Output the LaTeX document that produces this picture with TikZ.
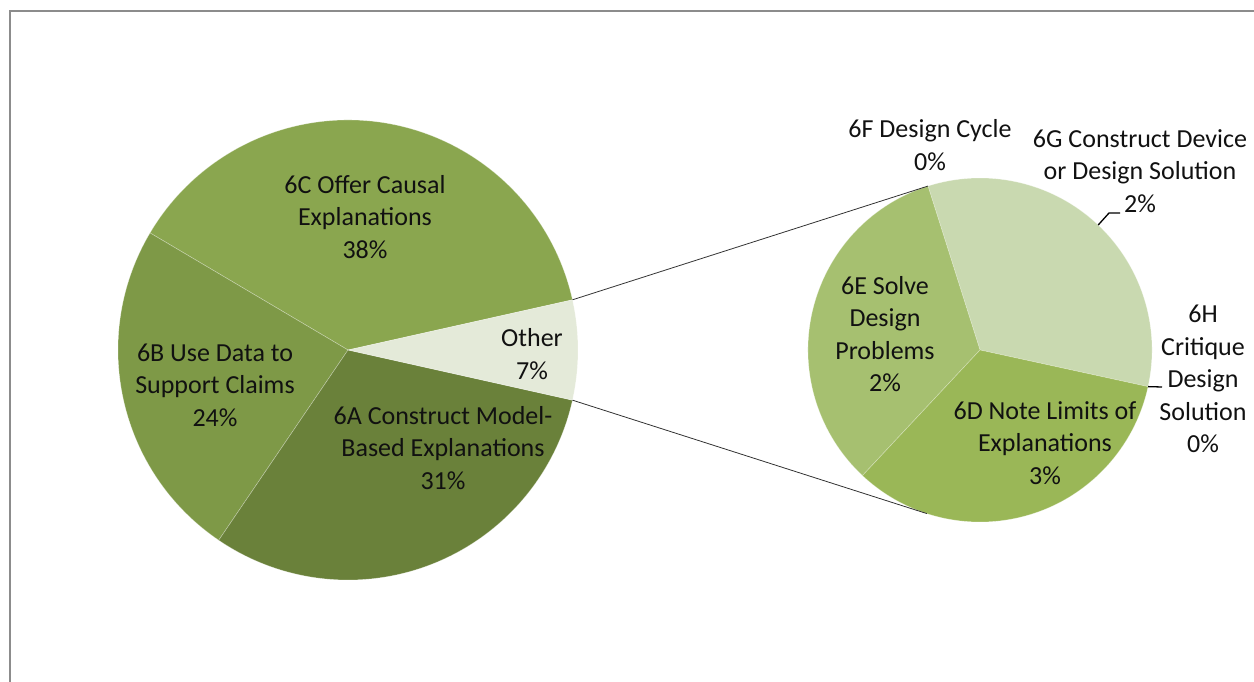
\documentclass[tikz,border=0pt]{standalone}
\usepackage{fontspec}
\setmainfont{Carlito}
\usetikzlibrary{calc}
\definecolor{cC}{HTML}{8AA64F}
\definecolor{cB}{HTML}{7E9947}
\definecolor{cA}{HTML}{6A813A}
\definecolor{cO}{HTML}{E4EAD9}
\definecolor{cE}{HTML}{A6C070}
\definecolor{cG}{HTML}{C9D9B0}
\definecolor{cD}{HTML}{9AB757}
\definecolor{frame}{HTML}{8C8C8C}
\definecolor{txt}{HTML}{111111}
\begin{document}
\begin{tikzpicture}[x=1pt,y=1pt,
  lbl/.style={align=center, font=\fontsize{26}{32.5}\selectfont, text=txt, inner sep=0pt},
  slice/.style={draw=white, draw opacity=0.35, line width=0.6pt},
  conn/.style={draw=black!80, line width=0.8pt},
  leader/.style={draw=black, line width=1.3pt}]
\useasboundingbox (0,0) rectangle (1254,682);
\draw[frame, line width=2.6pt] (10,-10) -- (10,671) -- (1264,671);

% big pie
\coordinate (bc) at (348,332);
\filldraw[slice, fill=cC] (bc) -- ++(12.6:230) arc[start angle=12.6, end angle=149.4, radius=230] -- cycle;
\filldraw[slice, fill=cB] (bc) -- ++(149.4:230) arc[start angle=149.4, end angle=235.8, radius=230] -- cycle;
\filldraw[slice, fill=cA] (bc) -- ++(235.8:230) arc[start angle=235.8, end angle=347.4, radius=230] -- cycle;
\filldraw[slice, fill=cO] (bc) -- ++(-12.6:230) arc[start angle=-12.6, end angle=12.6, radius=230] -- cycle;

% small pie
\coordinate (sc) at (980,332);
\filldraw[slice, fill=cG] (sc) -- ++(-12.3:172) arc[start angle=-12.3, end angle=107.6, radius=172] -- cycle;
\filldraw[slice, fill=cE] (sc) -- ++(107.6:172) arc[start angle=107.6, end angle=226.9, radius=172] -- cycle;
\filldraw[slice, fill=cD] (sc) -- ++(226.9:172) arc[start angle=226.9, end angle=347.7, radius=172] -- cycle;

% connectors
\coordinate (bt) at ($(bc)+(12.6:230)$);
\coordinate (bb) at ($(bc)+(-12.6:230)$);
\coordinate (st) at ($(sc)+(107.6:172)$);
\coordinate (sb) at ($(sc)+(252:172)$);
\draw[conn] (bt) -- (st);
\draw[conn] (bb) -- (sb);

% labels
\node[lbl] (l6C) at (365,465) {6C Offer Causal\\Explanations\\38\%};
\node[lbl] (l6B) at (215,297) {6B Use Data to\\Support Claims\\24\%};
\node[lbl] (l6A) at (443,234) {6A Construct Model-\\Based Explanations\\31\%};
\node[lbl] (lO) at (532,328) {Other\\7\%};
\node[lbl] (l6E) at (885,348) {6E Solve\\Design\\Problems\\2\%};
\node[lbl] (l6D) at (1045,239) {6D Note Limits of\\Explanations\\3\%};
\node[lbl] (l6F) at (930,537) {6F Design Cycle\\0\%};
\node[lbl] (l6G) at (1140,511) {6G Construct Device\\or Design Solution\\2\%};
\node[lbl] (l6H) at (1203,303) {6H\\Critique\\Design\\Solution\\0\%};

% leaders
\coordinate (g1) at ($(sc)+(46.6:172)$);
\coordinate (g2) at (1109,469);
\coordinate (g3) at (1120,469);
\draw[leader] (g1) -- (g2) -- (g3);
\coordinate (h1) at ($(sc)+(-12.3:172)$);
\coordinate (h2) at (1162,295);
\draw[leader] (h1) -- (h2);
\end{tikzpicture}
\end{document}
